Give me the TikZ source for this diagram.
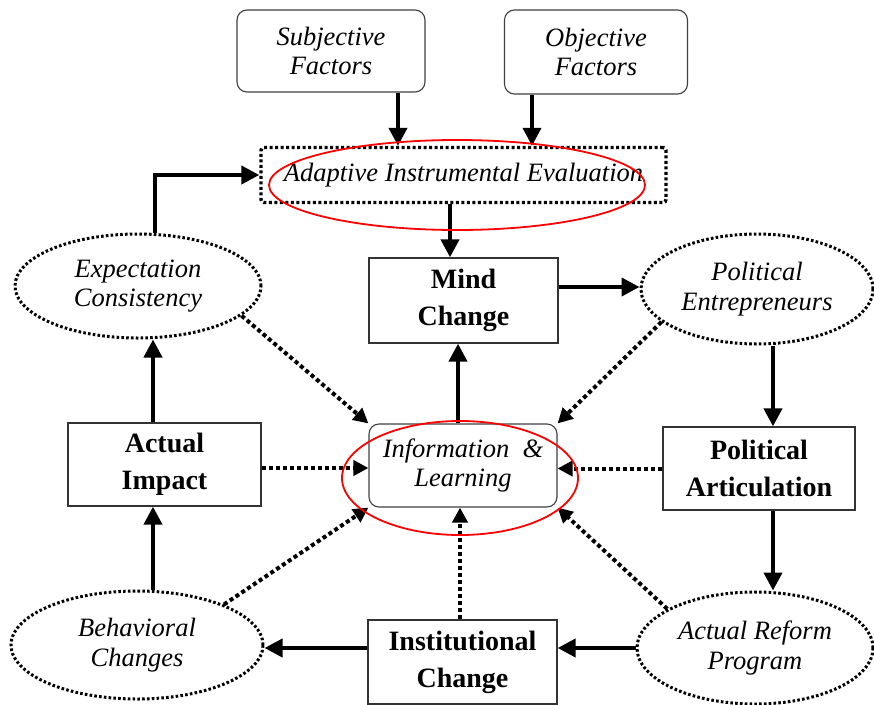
\documentclass[tikz,border=0pt]{standalone}
\usepackage{fontspec}
\setmainfont{Liberation Serif}
\usetikzlibrary{shapes.geometric,arrows.meta}
\begin{document}
\begin{tikzpicture}[x=1pt,y=-1pt,
  itext/.style={font=\fontsize{26.5}{29.5}\selectfont\itshape,align=center},
  btext/.style={font=\fontsize{28}{37}\selectfont\bfseries,align=center},
  plainbox/.style={draw=black!80,line width=1.3pt,fill=white,inner sep=0pt,btext},
  roundbox/.style={draw=black!75,line width=1.1pt,fill=white,rounded corners=10pt,inner sep=0pt,itext},
  dotell/.style={ellipse,draw=black,line width=3pt,dash pattern=on 2.6pt off 2.2pt,inner sep=0pt,itext},
  dotbox/.style={draw=black,line width=3.4pt,dash pattern=on 3pt off 2.5pt,rounded corners=3pt,inner sep=0pt,itext},
  arr/.style={line width=4pt,-{Triangle[length=18pt,width=18pt]}},
  darr/.style={line width=4pt,dash pattern=on 4pt off 3pt,-{Triangle[length=15pt,width=15pt]}},
  redmark/.style={ellipse,draw=red,line width=1.8pt,inner sep=0pt}
]
\useasboundingbox (0,0) rectangle (874,704);

% nodes
\node[roundbox,minimum width=188pt,minimum height=82pt] (subj) at (331,51) {Subjective\\Factors};
\node[roundbox,minimum width=183pt,minimum height=84pt] (obj) at (596,52) {Objective\\Factors};
\node[dotbox,minimum width=405pt,minimum height=55pt] (aie) at (463.5,175) {Adaptive Instrumental Evaluation};
\node[plainbox,minimum width=189pt,minimum height=85pt] (mind) at (463.5,300.5) {Mind\\Change};
\node[dotell,minimum width=246pt,minimum height=104pt] (ec) at (138,286) {Expectation\\Consistency};
\node[dotell,minimum width=232pt,minimum height=110pt] (pe) at (757,289) {Political\\Entrepreneurs};
\node[roundbox,minimum width=188pt,minimum height=83pt] (il) at (463,465.5) {Information \ \&\\Learning};
\node[plainbox,minimum width=193pt,minimum height=83pt] (ai) at (164.5,464.5) {Actual\\Impact};
\node[plainbox,minimum width=192pt,minimum height=83pt] (pa) at (759,468.5) {Political\\Articulation};
\node[dotell,minimum width=252pt,minimum height=108pt] (bc) at (137,645) {Behavioral\\Changes};
\node[plainbox,minimum width=189pt,minimum height=84pt] (ic) at (462.5,662) {Institutional\\Change};
\node[dotell,minimum width=236pt,minimum height=112pt] (arp) at (755,648) {Actual Reform\\Program};

% helper coordinates for connector lines
\coordinate (xs) at (398,0);
\coordinate (xo) at (532,0);
\coordinate (xa) at (450,0);
\coordinate (xm) at (458,0);
\coordinate (xr) at (773,0);
\coordinate (xl) at (153,0);
\coordinate (xe) at (155,0);
\coordinate (xi) at (460,0);
\coordinate (ym) at (0,287);
\coordinate (yb) at (0,648);
\coordinate (yai) at (0,468);

% solid connectors
\draw[arr] (subj.south -| xs) -- (aie.north -| xs);
\draw[arr] (obj.south -| xo) -- (aie.north -| xo);
\draw[arr] (aie.south -| xa) -- (mind.north -| xa);
\draw[arr] (mind.east |- ym) -- (pe.west |- ym);
\draw[arr] (il.north -| xm) -- (mind.south -| xm);
\draw[arr] (pe.south -| xr) -- (pa.north -| xr);
\draw[arr] (pa.south -| xr) -- (arp.north -| xr);
\draw[arr] (arp.west |- yb) -- (ic.east |- yb);
\draw[arr] (ic.west |- yb) -- (bc.east |- yb);
\draw[arr] (bc.north -| xl) -- (ai.south -| xl);
\draw[arr] (ai.north -| xl) -- (ec.south -| xl);
\draw[arr] (ec.north -| xe) |- (aie.west);

% dotted connectors
\draw[darr] (ec.-16) -- (il.north west);
\draw[darr] (ai.east |- yai) -- (il.west |- yai);
\draw[darr] (bc.25) -- (il.south west);
\draw[darr] (ic.north -| xi) -- (il.south -| xi);
\draw[darr] (arp.156) -- (il.south east);
\draw[darr] (pa.west) -- (il.east |- pa.west);
\draw[darr] (pe.-161) -- (il.north east);

% red annotation ellipses
\node[redmark,minimum width=376pt,minimum height=90pt] (r1) at (457,185) {};
\node[redmark,minimum width=236pt,minimum height=114pt] (r2) at (460,478) {};
\end{tikzpicture}
\end{document}
